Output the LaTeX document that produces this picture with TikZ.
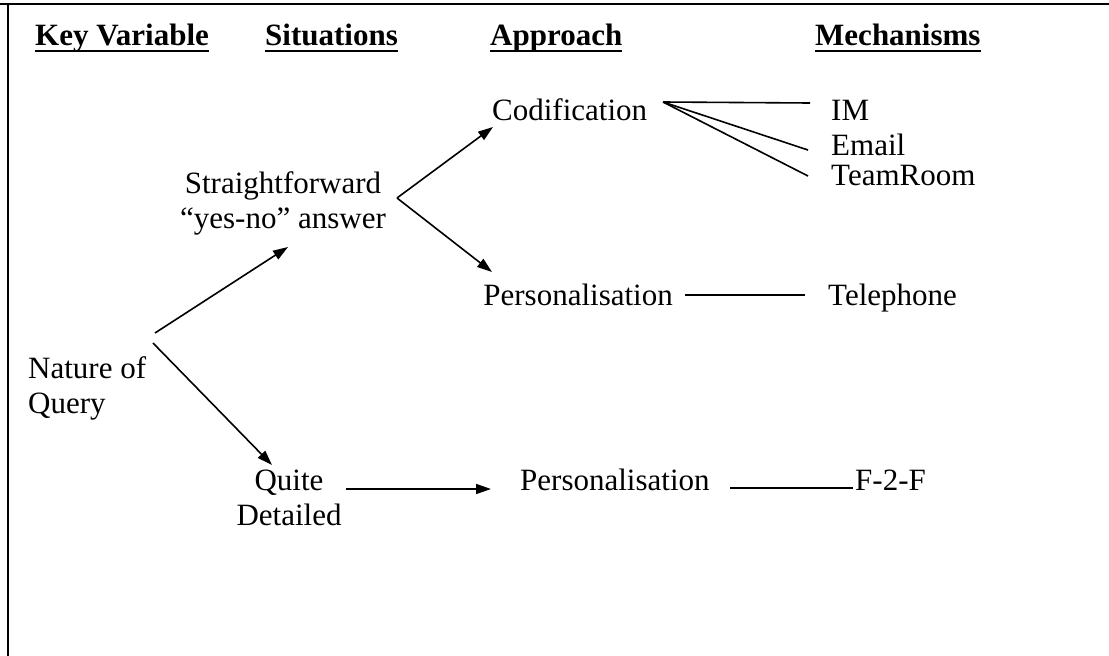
\documentclass[tikz,border=0pt]{standalone}
\usepackage{fontspec}
\setmainfont{Liberation Serif}
\usetikzlibrary{arrows.meta}
\begin{document}
\begin{tikzpicture}[x=1pt,y=-1pt,
  lbl/.style={inner sep=0pt,font=\fontsize{31}{35}\selectfont},
  hdr/.style={inner sep=0pt,font=\fontsize{31}{35}\selectfont\bfseries},
  uline/.style={line width=2.2pt},
  link/.style={line width=1.6pt},
  arr/.style={line width=1.6pt,-{Triangle[length=15pt,width=10pt]}},
  frame/.style={line width=2pt}]
\useasboundingbox (0,0) rectangle (1109,656);

% frame edges
\coordinate (tl) at (8,4);
\coordinate (tr) at (1109,4);
\coordinate (bl) at (8,656);
\coordinate (tl0) at (0,4);
\draw[frame] (tl0) -- (tr);
\draw[frame] (tl) -- (bl);

% column headings
\node[hdr,anchor=base west] (hkv) at (35,45) {Key Variable};
\node[hdr,anchor=base west] (hsit) at (265,45) {Situations};
\node[hdr,anchor=base west] (happ) at (490,45) {Approach};
\node[hdr,anchor=base west] (hmech) at (815,45) {Mechanisms};
\foreach \h in {hkv,hsit,happ,hmech}
  \draw[uline] ([yshift=-6pt]\h.base west) -- ([yshift=-6pt]\h.base east);

% nodes (two-line nodes are placed by the baseline of their last line)
\node[lbl,anchor=base west,align=left] (nq) at (28,413) {Nature of\\Query};
\node[lbl,anchor=base,align=center] (sf) at (283,228) {Straightforward\\“yes-no” answer};
\node[lbl,anchor=base,align=center] (qd) at (289,525) {Quite\\Detailed};
\node[lbl,anchor=base west] (cod) at (492,120) {Codification};
\node[lbl,anchor=base east] (p1) at (673,305) {Personalisation};
\node[lbl,anchor=base west] (p2) at (520,490) {Personalisation};
\node[lbl,anchor=base west] (im) at (831,120) {IM};
\node[lbl,anchor=base west] (em) at (831,155) {Email};
\node[lbl,anchor=base west] (team) at (831,185) {TeamRoom};
\node[lbl,anchor=base west] (tel) at (828,305) {Telephone};
\node[lbl,anchor=base west] (f2f) at (855,490) {F-2-F};

% arrows
\draw[arr] ([shift={(127,-80)}]nq.base west) -- ([shift={(5,19)}]sf.base);
\draw[arr] ([shift={(125,-70)}]nq.base west) -- ([shift={(-17,-60)}]qd.base);
\draw[arr] ([shift={(114,-30)}]sf.base) -- ([shift={(1,7)}]cod.base west);
\draw[arr] ([shift={(114,-30)}]sf.base) -- ([shift={(-181,-33)}]p1.base east);
\draw[arr] ([shift={(57,-36)}]qd.base) -- ([shift={(-29,-1)}]p2.base west);

% plain links
\draw[link] ([shift={(171,-18)}]cod.base west) -- ([shift={(-21,-17)}]im.base west);
\draw[link] ([shift={(171,-18)}]cod.base west) -- ([shift={(-23,-5)}]em.base west);
\draw[link] ([shift={(171,-18)}]cod.base west) -- ([shift={(-23,-9)}]team.base west);
\draw[link] ([shift={(12,-10)}]p1.base east) -- ([shift={(-23,-10)}]tel.base west);
\draw[link] ([shift={(210,-2)}]p2.base west) -- ([shift={(-2,-2)}]f2f.base west);
\end{tikzpicture}
\end{document}
